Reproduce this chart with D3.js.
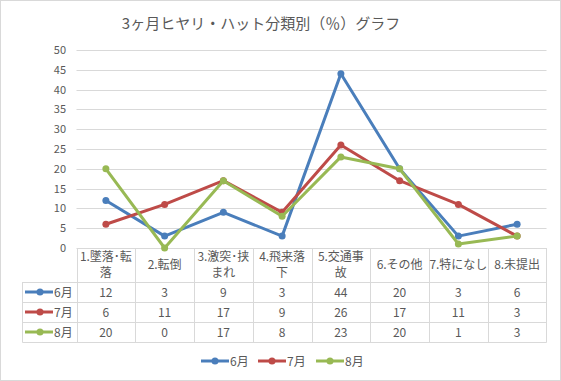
<!DOCTYPE html>
<html>
<head>
<meta charset="utf-8">
<script src="https://cdn.jsdelivr.net/npm/d3@7"></script>
<style>
  body { margin: 0; background: #fff; }
  text { font-family: "Noto Sans CJK JP", "Noto Sans", sans-serif; fill: #595959; }
</style>
</head>
<body>
<div id="chart-area"></div>
<script>
// data
const categories = ["1.墜落・転落", "2.転倒", "3.激突・挟まれ", "4.飛来落下", "5.交通事故", "6.その他", "7.特になし", "8.未提出"];
// how each header wraps in the table
const headerLines = [["1.墜落･転", "落"], ["2.転倒"], ["3.激突･挟", "まれ"], ["4.飛来落", "下"], ["5.交通事", "故"], ["6.その他"], ["7.特になし"], ["8.未提出"]];
const seriesNames = ["6月", "7月", "8月"];
const june = [12, 3, 9, 3, 44, 20, 3, 6];
const july = [6, 11, 17, 9, 26, 17, 11, 3];
const august = [20, 0, 17, 8, 23, 20, 1, 3];
const yTicks = [0, 5, 10, 15, 20, 25, 30, 35, 40, 45, 50];
const colors = ["#4a7ebb", "#be4b48", "#98b954"];

const series = [june, july, august].map((values, i) => ({ name: seriesNames[i], values: values, color: colors[i] }));

const width = 561, height = 381;
const svg = d3.select("#chart-area").append("svg")
    .attr("width", width)
    .attr("height", height);

// chart border
svg.append("rect")
    .attr("x", 0.5).attr("y", 0.5)
    .attr("width", width - 1).attr("height", height - 1)
    .attr("fill", "#fff")
    .attr("stroke", "#d9d9d9");

const plotLeft = 76.5, plotRight = 546.5, plotTop = 50, plotBottom = 248;

const x = d3.scaleBand()
    .domain(categories)
    .range([plotLeft, plotRight]);

const y = d3.scaleLinear()
    .domain([0, 50])
    .range([plotBottom, plotTop]);

// title
svg.append("text")
    .attr("x", 261)
    .attr("y", 29)
    .attr("text-anchor", "middle")
    .attr("font-size", 15)
    .text("3ヶ月ヒヤリ・ハット分類別（％）グラフ");

// gridlines
svg.selectAll(".grid")
    .data(yTicks.filter(d => d > 0))
    .enter().append("line")
    .attr("x1", plotLeft).attr("x2", plotRight)
    .attr("y1", d => Math.round(y(d)) + 0.5)
    .attr("y2", d => Math.round(y(d)) + 0.5)
    .attr("stroke", "#d9d9d9");

// y labels
svg.selectAll(".ytick")
    .data(yTicks)
    .enter().append("text")
    .attr("x", 66)
    .attr("y", d => y(d) + 4)
    .attr("text-anchor", "end")
    .attr("font-size", 11)
    .text(d => d);

// table
const rowTop = 282, rowH = 20, tableBottom = rowTop + rowH * 3;
const tableLeft = 22.5;
const grid = svg.append("g").attr("stroke", "#d9d9d9").attr("stroke-width", 1);

grid.append("line").attr("x1", plotLeft).attr("x2", plotRight).attr("y1", plotBottom + 0.5).attr("y2", plotBottom + 0.5);
[0, 1, 2, 3].forEach(i => {
    const yy = rowTop + i * rowH + 0.5;
    grid.append("line").attr("x1", tableLeft).attr("x2", plotRight).attr("y1", yy).attr("y2", yy);
});
grid.append("line").attr("x1", tableLeft).attr("x2", tableLeft).attr("y1", rowTop).attr("y2", tableBottom + 0.5);
categories.forEach(c => {
    grid.append("line")
        .attr("x1", Math.round(x(c)) + 0.5).attr("x2", Math.round(x(c)) + 0.5)
        .attr("y1", plotBottom).attr("y2", tableBottom + 0.5);
});
grid.append("line").attr("x1", plotRight).attr("x2", plotRight).attr("y1", plotBottom).attr("y2", tableBottom + 0.5);

// header labels
categories.forEach((c, i) => {
    const lines = headerLines[i];
    const cx = x(c) + x.bandwidth() / 2;
    const cy = (plotBottom + rowTop) / 2;
    lines.forEach((t, j) => {
        svg.append("text")
            .attr("x", cx)
            .attr("y", cy + 4 + (j - (lines.length - 1) / 2) * 16)
            .attr("text-anchor", "middle")
            .attr("font-size", 12)
            .text(t);
    });
});

// value rows
series.forEach((s, r) => {
    const cy = rowTop + r * rowH + rowH / 2;
    svg.append("line")
        .attr("x1", 25).attr("x2", 53)
        .attr("y1", cy).attr("y2", cy)
        .attr("stroke", s.color).attr("stroke-width", 3);
    svg.append("circle")
        .attr("cx", 40).attr("cy", cy).attr("r", 3.5)
        .attr("fill", s.color);
    svg.append("text")
        .attr("x", 54).attr("y", cy + 4.5)
        .attr("font-size", 12)
        .text(s.name);
    svg.selectAll(".val" + r)
        .data(s.values)
        .enter().append("text")
        .attr("x", (d, i) => x(categories[i]) + x.bandwidth() / 2)
        .attr("y", cy + 4.5)
        .attr("text-anchor", "middle")
        .attr("font-size", 12)
        .text(d => d);
});

// lines
const line = d3.line()
    .x((d, i) => x(categories[i]) + x.bandwidth() / 2)
    .y(d => y(d));

series.forEach(s => {
    svg.append("path")
        .datum(s.values)
        .attr("d", line)
        .attr("fill", "none")
        .attr("stroke", s.color)
        .attr("stroke-width", 3)
        .attr("stroke-linejoin", "round");
    svg.selectAll(null)
        .data(s.values)
        .enter().append("circle")
        .attr("cx", (d, i) => x(categories[i]) + x.bandwidth() / 2)
        .attr("cy", d => y(d))
        .attr("r", 3.5)
        .attr("fill", s.color);
});

// legend
const legendX = [201, 258, 316];
series.forEach((s, i) => {
    const lx = legendX[i], ly = 361;
    svg.append("line")
        .attr("x1", lx).attr("x2", lx + 28)
        .attr("y1", ly).attr("y2", ly)
        .attr("stroke", s.color).attr("stroke-width", 3);
    svg.append("circle")
        .attr("cx", lx + 14).attr("cy", ly).attr("r", 3.5)
        .attr("fill", s.color);
    svg.append("text")
        .attr("x", lx + 29).attr("y", ly + 4.5)
        .attr("font-size", 12)
        .text(s.name);
});
</script>
</body>
</html>
